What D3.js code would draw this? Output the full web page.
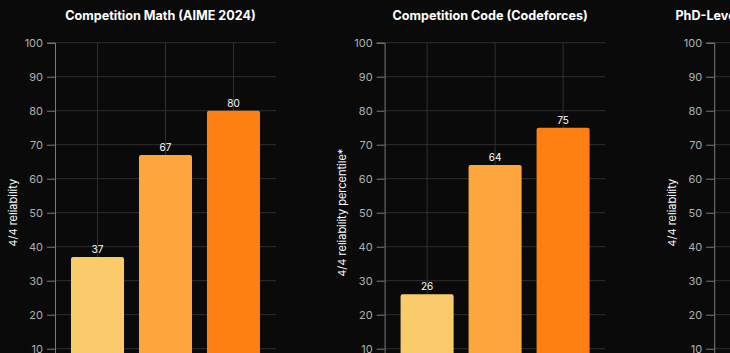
<!DOCTYPE html>
<html>
<head>
<meta charset="utf-8">
<script src="https://cdn.jsdelivr.net/npm/d3@7"></script>
<style>
  html, body { margin: 0; padding: 0; background: #0a0a0a; }
  svg { display: block; }
</style>
</head>
<body>
<svg id="chart" width="730" height="353"></svg>
<script>
const models = ["o1-preview", "o1", "o1 pro mode"];
const panelTitles = ["Competition Math (AIME 2024)", "Competition Code (Codeforces)", "PhD-Level Science Questions (GPQA Diamond)"];
const yLabels = ["4/4 reliability", "4/4 reliability percentile*", "4/4 reliability"];
const mathValues = [37, 67, 80];
const codeValues = [26, 64, 75];
const scienceValues = [58, 74, 79];
const yTicks = [0, 10, 20, 30, 40, 50, 60, 70, 80, 90, 100];
const barColors = ["#f9cb6a", "#fca63c", "#fe7f12"];

const panels = [mathValues, codeValues, scienceValues];

const svg = d3.select("#chart");
svg.append("rect").attr("width", 730).attr("height", 353).attr("fill", "#0a0a0a");

const y = d3.scaleLinear().domain([0, 100]).range([382.7, 42.7]);
const plotW = 221;
const font = "Inter, 'Noto Sans', sans-serif";

panels.forEach((vals, i) => {
  const ax = 55 + 329.6 * i;
  const g = svg.append("g");
  const x = d3.scaleBand().domain(models).range([ax, ax + plotW])
    .paddingInner(0.22).paddingOuter(0.235);

  // horizontal grid
  g.selectAll(".hg").data(yTicks).join("line")
    .attr("x1", ax).attr("x2", ax + plotW)
    .attr("y1", d => y(d)).attr("y2", d => y(d))
    .attr("stroke", "#2f2f2f").attr("stroke-width", 1);
  // vertical grid at bar centres
  g.selectAll(".vg").data(models).join("line")
    .attr("x1", d => x(d) + x.bandwidth() / 2).attr("x2", d => x(d) + x.bandwidth() / 2)
    .attr("y1", y(100)).attr("y2", y(0))
    .attr("stroke", "#2f2f2f").attr("stroke-width", 1);

  // axis
  const axis = d3.axisLeft(y).tickValues(yTicks).tickSize(8).tickPadding(4);
  const ag = g.append("g").attr("transform", `translate(${ax},0)`).call(axis);
  ag.select(".domain").attr("stroke", "#7a7a7a");
  ag.selectAll(".tick line").attr("stroke", "#7a7a7a");
  ag.selectAll(".tick text").attr("fill", "#b0b0b0")
    .style("font-family", font).style("font-size", "11px");

  // bars
  g.selectAll(".bar").data(vals).join("rect")
    .attr("x", (d, j) => x(models[j]))
    .attr("y", d => y(d))
    .attr("width", x.bandwidth())
    .attr("height", d => y(0) - y(d))
    .attr("rx", 2).attr("ry", 2)
    .attr("fill", (d, j) => barColors[j]);

  // value labels
  g.selectAll(".val").data(vals).join("text")
    .attr("x", (d, j) => x(models[j]) + x.bandwidth() / 2)
    .attr("y", d => y(d) - 4)
    .attr("text-anchor", "middle")
    .attr("fill", "#ffffff")
    .style("font-family", font).style("font-size", "10px")
    .text(d => d);

  // title
  g.append("text")
    .attr("x", ax + 105.5).attr("y", 20)
    .attr("text-anchor", "middle")
    .attr("fill", "#ffffff")
    .style("font-family", font).style("font-size", "12.6px").style("font-weight", "700")
    .text(panelTitles[i]);

  // y label
  g.append("text")
    .attr("transform", `translate(${ax - 38.5},${(y(0) + y(100)) / 2}) rotate(-90)`)
    .attr("text-anchor", "middle")
    .attr("fill", "#ffffff")
    .style("font-family", font).style("font-size", "11px")
    .text(yLabels[i]);
});
</script>
</body>
</html>
